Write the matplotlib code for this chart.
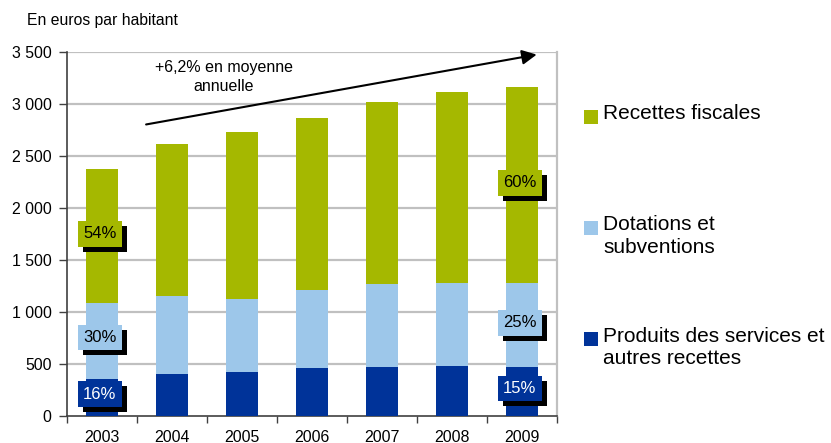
import matplotlib
matplotlib.use("Agg")
import matplotlib.pyplot as plt
from matplotlib.patches import Rectangle
import matplotlib.patheffects as pe

plt.rcParams['font.family'] = ['Liberation Sans', 'DejaVu Sans']

years = ["2003", "2004", "2005", "2006", "2007", "2008", "2009"]
produits = [356, 402, 420, 459, 468, 478, 472]
dotations_top = [1082, 1151, 1122, 1209, 1266, 1276, 1275]
totals = [2372, 2613, 2728, 2872, 3026, 3122, 3170]
dotations = [d - p for d, p in zip(dotations_top, produits)]
recettes = [t - d for t, d in zip(totals, dotations_top)]

series_names = ["Recettes fiscales", "Dotations et\nsubventions",
                "Produits des services et\nautres recettes"]
colors = {"rec": "#A5B800", "dot": "#9DC7EA", "prod": "#003399"}

# percentage labels: (year index, y value, text, colour key)
pct_labels = [
    (0, 1752, "54%", "rec"), (0, 752, "30%", "dot"), (0, 208, "16%", "prod"),
    (6, 2242, "60%", "rec"), (6, 896, "25%", "dot"), (6, 262, "15%", "prod"),
]

fig = plt.figure(figsize=(8.31, 4.43), dpi=100)
ax = fig.add_axes([67/831, 1-415.7/443, 490/831, (415.7-52.3)/443])

x = list(range(len(years)))
w = 0.47
ax.bar(x, produits, w, color=colors["prod"], zorder=3)
ax.bar(x, dotations, w, bottom=produits, color=colors["dot"], zorder=3)
ax.bar(x, recettes, w, bottom=dotations_top, color=colors["rec"], zorder=3)

ax.set_xlim(-0.5, 6.5)
ax.set_ylim(0, 3500)
ticks = list(range(0, 3501, 500))
ax.set_yticks(ticks)
ax.set_yticklabels([f"{t:,}".replace(",", " ") for t in ticks], fontsize=11.4)
ax.set_xticks(x)
ax.set_xticklabels(years, fontsize=11.4)
ax.set_xticks([i - 0.5 for i in range(len(years) + 1)], minor=True)
ax.tick_params(axis='x', which='major', length=0, pad=10)
ax.tick_params(axis='x', which='minor', length=5, width=1, color='#404040', direction='out')
ax.tick_params(axis='y', length=6, width=1, color='#404040', pad=5)

for t in ticks[1:]:
    ax.axhline(t, color='#c0c0c0', lw=1.6, zorder=1)

ax.spines['top'].set_visible(False)
ax.spines['right'].set_color('#c0c0c0')
ax.spines['right'].set_linewidth(1.6)
ax.spines['left'].set_color('#404040')
ax.spines['bottom'].set_color('#404040')
ax.spines['left'].set_linewidth(1.2)
ax.spines['bottom'].set_linewidth(1.2)

for i, yv, txt, key in pct_labels:
    tc = 'white' if key == 'prod' else 'black'
    t = ax.text(i - 0.03, yv, txt, ha='center', va='center', fontsize=12,
                color=tc, zorder=6,
                bbox=dict(boxstyle='square,pad=0.32', fc=colors[key], ec='none'))
    t.get_bbox_patch().set_path_effects(
        [pe.SimplePatchShadow(offset=(3.6, -3.6), shadow_rgbFace='black', alpha=1), pe.Normal()])

ax.annotate("", xy=(6.21, 3478), xytext=(0.63, 2805),
            arrowprops=dict(arrowstyle='-|>', color='black', lw=1.5,
                            mutation_scale=22, shrinkA=0, shrinkB=0), zorder=7)
ax.text(1.74, 3262, "+6,2% en moyenne\nannuelle", ha='center', va='center',
        fontsize=11.5, linespacing=1.3, zorder=7)

fig.text(27/831, 1-21/443, "En euros par habitant", ha='left', va='center', fontsize=11.3)

# legend
leg_y = [116.5, 227.5, 338.5]
leg_keys = ["rec", "dot", "prod"]
for yy, key, name in zip(leg_y, leg_keys, series_names):
    fig.patches.append(Rectangle((584/831, 1-(yy+7)/443), 14/831, 14/443,
                                 transform=fig.transFigure, fc=colors[key], ec='none'))
    fig.text(603/831, 1-(yy-12)/443, name, ha='left', va='top', fontsize=15,
             linespacing=1.25)

fig.savefig("out.png", dpi=100)
